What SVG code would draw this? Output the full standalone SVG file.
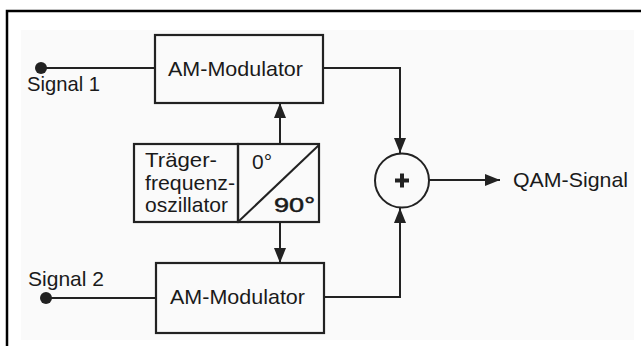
<svg xmlns="http://www.w3.org/2000/svg" width="641" height="346" viewBox="0 0 641 346">
<style>
.box{fill:none;stroke:#222;stroke-width:2.2}
.ln{fill:none;stroke:#222;stroke-width:2}
.t{font-family:"Liberation Sans",Arial,sans-serif;font-size:21px;fill:#1a1a1a}
.b{stroke:#1a1a1a;stroke-width:0.5}
</style>
<defs>
<marker id="ah" markerUnits="userSpaceOnUse" viewBox="0 0 15 12" refX="15" refY="6" markerWidth="15" markerHeight="12" orient="auto">
<path d="M0,0 L15,6 L0,12 z" fill="#222"/>
</marker>
</defs>
<rect x="0" y="0" width="641" height="346" fill="#ffffff"/>
<rect x="21" y="30" width="613" height="310" fill="#fafafa"/>
<path d="M7,346 V11 H641" fill="none" stroke="#000" stroke-width="2.5"/>

<g id="connectors">
<circle cx="41" cy="68" r="6" fill="#222"/>
<path class="ln" d="M41,68 H155"/>
<circle cx="46" cy="298" r="6" fill="#222"/>
<path class="ln" d="M46,298 H156"/>
<path class="ln" d="M323,68 H400 V153" marker-end="url(#ah)"/>
<path class="ln" d="M324,297 H400 V208" marker-end="url(#ah)"/>
<path class="ln" d="M429,180 H500" marker-end="url(#ah)"/>
<path class="ln" d="M280,144 V103" marker-end="url(#ah)"/>
<path class="ln" d="M280,222 V263" marker-end="url(#ah)"/>
</g>

<g id="signal1">
<text class="t" x="27" y="91" textLength="73" lengthAdjust="spacingAndGlyphs">Signal 1</text>
</g>
<g id="signal2">
<text class="t" x="28" y="286" textLength="76" lengthAdjust="spacingAndGlyphs">Signal 2</text>
</g>

<g id="am1">
<rect class="box" x="155" y="35" width="168" height="68"/>
<text class="t" x="168" y="76" textLength="135" lengthAdjust="spacingAndGlyphs">AM-Modulator</text>
</g>

<g id="am2">
<rect class="box" x="156" y="263" width="168" height="70"/>
<text class="t" x="170" y="304" textLength="135" lengthAdjust="spacingAndGlyphs">AM-Modulator</text>
</g>

<g id="oszillator">
<rect class="box" x="134" y="144" width="104" height="78"/>
<text class="t" x="145" y="167" textLength="72" lengthAdjust="spacingAndGlyphs">Träger-</text>
<text class="t" x="145" y="190" textLength="90" lengthAdjust="spacingAndGlyphs">frequenz-</text>
<text class="t" x="145" y="212" textLength="83" lengthAdjust="spacingAndGlyphs">oszillator</text>
</g>

<g id="phase">
<rect class="box" x="238" y="144" width="81" height="78"/>
<path class="ln" d="M239,221 L319,145"/>
<text class="t" x="252" y="169" textLength="20" lengthAdjust="spacingAndGlyphs">0°</text>
<text class="t b" x="274" y="212" textLength="41" lengthAdjust="spacingAndGlyphs">90°</text>
</g>

<g id="summer">
<circle cx="402" cy="180.5" r="27" fill="none" stroke="#222" stroke-width="2"/>
<path d="M395,180.5 H409 M402,173.5 V187.5" stroke="#222" stroke-width="4" fill="none"/>
</g>

<g id="qam">
<text class="t" x="513" y="187" textLength="115" lengthAdjust="spacingAndGlyphs">QAM-Signal</text>
</g>
</svg>
